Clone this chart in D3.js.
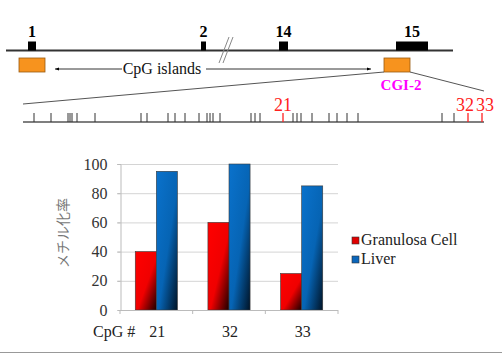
<!DOCTYPE html>
<html><head><meta charset="utf-8">
<script src="https://cdn.jsdelivr.net/npm/d3@7"></script>
<style>
text.serif{font-family:"Liberation Serif","Times New Roman",Times,serif !important;}
text.jp{font-family:"Noto Sans CJK JP",sans-serif !important;}
</style>
</head>
<body style="margin:0">
<svg id="c" width="502" height="354"></svg>
<script>
// ---------- data ----------
const exonLabels = ["1","2","14","15"];
const exonStart  = [22, 195, 273, 390];   // gene-axis units
const exonEnd    = [30, 200, 282, 422];
const islandLabels = ["", "CGI-2"];
const islandStart  = [13, 378];
const islandEnd    = [39, 404];
// CpG site positions inside CGI-2 (units along zoomed axis)
const cpgPos = [11,28,45,47,49,54,72,118,124,145,152,162,176,184,187,190,197,228,232,237,
                260,270,274,278,289,306,314,324,335,419,431,445,459];
const highlighted = [21,32,33];

const categories = ["21","32","33"];
const seriesNames = ["Granulosa Cell","Liver"];
const granulosa = [40,60,25];
const liver = [95,100,85];
const yTicks = [0,20,40,60,80,100];

// ---------- drawing ----------
const svg = d3.select("#c");
const defs = svg.append("defs");
function T(x, y, txt, size, fill){
  return svg.append("text").attr("class","serif").attr("x",x).attr("y",y)
    .attr("font-family","Times New Roman").style("font-family",'"Times New Roman"')
    .attr("font-size",size).attr("fill",fill).text(txt);
}

// gene diagram
const gx = d3.scaleLinear().domain([0,447]).range([6,453]);
const geneY = 50.5;
svg.append("line").attr("x1",gx(0)).attr("x2",gx(447)).attr("y1",geneY).attr("y2",geneY)
  .attr("stroke","#333").attr("stroke-width",2);
exonLabels.forEach((l,i)=>{
  svg.append("rect").attr("x",gx(exonStart[i])).attr("y",geneY-9)
    .attr("width",gx(exonEnd[i])-gx(exonStart[i])).attr("height",9).attr("fill","#000");
  T((gx(exonStart[i])+gx(exonEnd[i]))/2, 37, l, 16, "#000").attr("text-anchor","middle").attr("font-weight","bold");
});
// break mark
[0,4].forEach(o=>{
  svg.append("line").attr("x1",gx(213)+o).attr("y1",63).attr("x2",gx(223)+o).attr("y2",37)
    .attr("stroke","#888").attr("stroke-width",1);
});
// islands
islandStart.forEach((s,i)=>{
  svg.append("rect").attr("x",gx(s)).attr("y",58).attr("width",gx(islandEnd[i])-gx(s)).attr("height",14)
    .attr("fill","#f7931e").attr("stroke","#9a5a10").attr("stroke-width",0.8);
});
T(gx(404)-9, 90, islandLabels[1], 15, "#ff00ff").attr("text-anchor","middle").attr("font-weight","bold");
// CpG islands label with arrows
defs.append("marker").attr("id","ah").attr("viewBox","0 0 10 10").attr("refX",10).attr("refY",5)
  .attr("markerWidth",5).attr("markerHeight",5).attr("orient","auto")
  .append("path").attr("d","M0,1L10,5L0,9Z").attr("fill","#000");
svg.append("line").attr("x1",gx(116)).attr("x2",gx(49)).attr("y1",69).attr("y2",69)
  .attr("stroke","#000").attr("stroke-width",0.8).attr("marker-end","url(#ah)");
svg.append("line").attr("x1",gx(200)).attr("x2",gx(365)).attr("y1",69).attr("y2",69)
  .attr("stroke","#000").attr("stroke-width",0.8).attr("marker-end","url(#ah)");
T(gx(156), 74, "CpG islands", 16, "#111").attr("text-anchor","middle");

// zoom lines
const cx = d3.scaleLinear().domain([0,461]).range([23,484]);
const baseY = 122;
svg.append("line").attr("x1",gx(islandStart[1])).attr("y1",72).attr("x2",cx(0)).attr("y2",104)
  .attr("stroke","#555").attr("stroke-width",1);
svg.append("line").attr("x1",gx(islandEnd[1])).attr("y1",72).attr("x2",cx(461)).attr("y2",91)
  .attr("stroke","#555").attr("stroke-width",1);
svg.append("line").attr("x1",cx(0)).attr("x2",cx(461)).attr("y1",baseY).attr("y2",baseY)
  .attr("stroke","#555").attr("stroke-width",1.5);
cpgPos.forEach((p,i)=>{
  const n=i+1, hi=highlighted.includes(n);
  svg.append("line").attr("x1",cx(p)).attr("x2",cx(p)).attr("y1",baseY-9).attr("y2",baseY)
    .attr("stroke",hi?"#ff2020":"#333").attr("stroke-width",hi?1.3:1);
});
const lblOff = {21:0, 32:-3, 33:3};
highlighted.forEach(n=>{
  T(cx(cpgPos[n-1])+lblOff[n], 111, String(n), 18, "#ff2020").attr("text-anchor","middle");
});

// ---------- bar chart ----------
const x0 = d3.scaleBand().domain(categories).range([120,338]).paddingInner(0.42).paddingOuter(0.21);
const x1 = d3.scaleBand().domain(seriesNames).range([0,x0.bandwidth()]);
const y = d3.scaleLinear().domain([0,100]).range([310,164]);

function grad(id, c0, c1, c2){
  const g = defs.append("linearGradient").attr("id",id).attr("x1",0).attr("y1",0).attr("x2",1).attr("y2",1);
  g.append("stop").attr("offset",0).attr("stop-color",c0);
  g.append("stop").attr("offset",0.55).attr("stop-color",c1);
  g.append("stop").attr("offset",1).attr("stop-color",c2);
}
grad("gRed","#ff0000","#f00000","#1a0000");
grad("gBlue","#0a72cc","#0664b4","#001326");
const colors = {"Granulosa Cell":"#e00000","Liver":"#0a66bb"};
const fills = {"Granulosa Cell":"url(#gRed)","Liver":"url(#gBlue)"};

// gridlines
svg.append("g").selectAll("line").data(yTicks.slice(1)).join("line")
  .attr("x1",117).attr("x2",338).attr("y1",d=>y(d)+0.5).attr("y2",d=>y(d)+0.5)
  .attr("stroke","#d4d4d4").attr("stroke-width",1);

// y axis
const yAxis = svg.append("g").attr("transform","translate(120.5,0)")
  .call(d3.axisLeft(y).tickValues(yTicks).tickSize(3).tickPadding(10).tickFormat(d3.format("d")));
yAxis.attr("font-family","Times New Roman").attr("font-size",16);
yAxis.select(".domain").attr("stroke","#bbb");
yAxis.selectAll(".tick line").attr("stroke","#bbb");
yAxis.selectAll("text").attr("class","serif").style("font-family",'"Times New Roman"').style("font-size","16px").attr("fill","#333");

// bars
const data = categories.map((c,i)=>({cat:c, vals:[granulosa[i], liver[i]]}));
const grp = svg.append("g").selectAll("g").data(data).join("g")
  .attr("transform",d=>`translate(${x0(d.cat)},0)`);
grp.selectAll("rect").data(d=>seriesNames.map((s,j)=>({s, v:d.vals[j]}))).join("rect")
  .attr("x",d=>x1(d.s)).attr("width",x1.bandwidth())
  .attr("y",d=>y(d.v)).attr("height",d=>y(0)-y(d.v))
  .attr("fill",d=>fills[d.s]).attr("stroke","#3a3a3a").attr("stroke-width",0.6);

// x axis
svg.append("line").attr("x1",120).attr("x2",338).attr("y1",310.5).attr("y2",310.5).attr("stroke","#bbb");
const bounds = [x0.range()[0]].concat(categories.map(c=>x0(c)+x0.bandwidth()+x0.step()*x0.paddingInner()/2));
bounds[bounds.length-1] = x0.range()[1];
svg.append("g").selectAll("line").data(bounds).join("line")
  .attr("x1",d=>d).attr("x2",d=>d).attr("y1",310).attr("y2",314).attr("stroke","#bbb");
categories.forEach(c=>{
  T(x0(c)+x0.bandwidth()/2+1, 337, c, 16, "#222").attr("text-anchor","middle");
});
T(93, 337, "CpG #", 16, "#222");

// y title
svg.append("text").attr("class","jp").attr("transform","translate(68,233) rotate(-90)").attr("text-anchor","middle")
  .style("font-family",'"Noto Sans CJK JP"').attr("font-size",14).attr("fill","#777").text("メチル化率");

// legend
seriesNames.forEach((s,i)=>{
  const ly = 237 + i*19;
  svg.append("rect").attr("x",352).attr("y",ly).attr("width",7).attr("height",7)
    .attr("fill",colors[s]).attr("stroke","#333").attr("stroke-width",0.6);
  T(361, ly+8, s, 16, "#222");
});

// bottom border
svg.append("line").attr("x1",0).attr("x2",502).attr("y1",352.5).attr("y2",352.5).attr("stroke","#999").attr("stroke-width",1.2);
</script>
</body></html>
